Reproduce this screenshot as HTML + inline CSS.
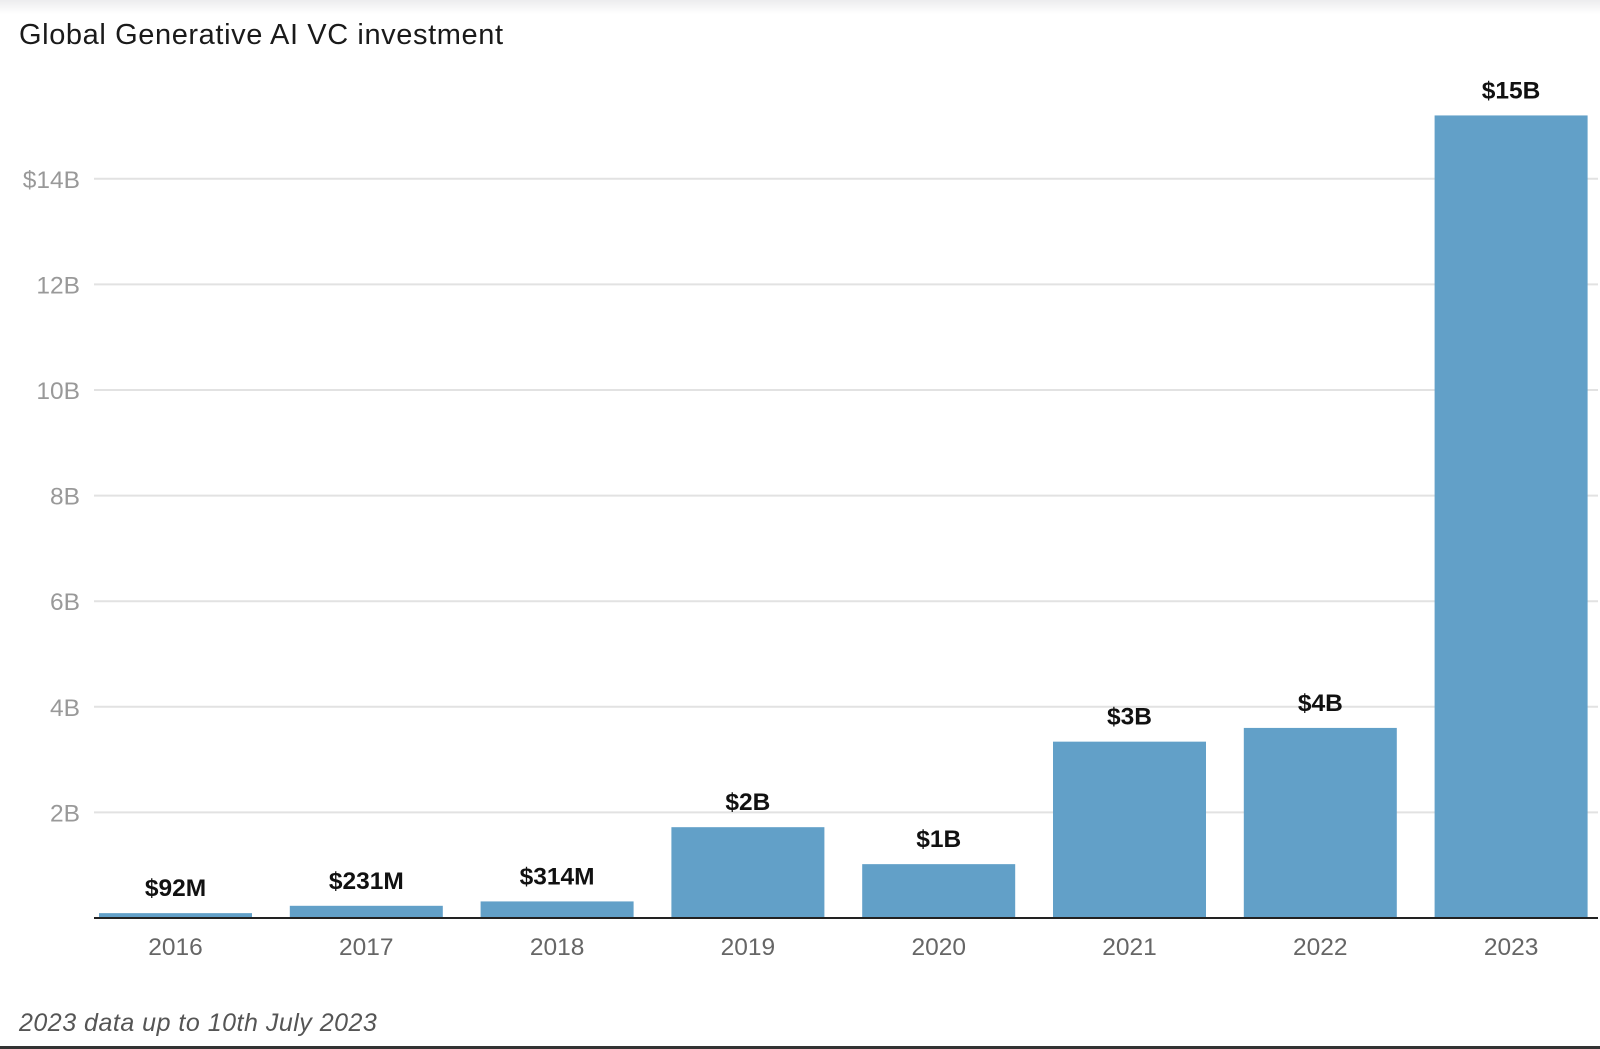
<!DOCTYPE html>
<html><head><meta charset="utf-8"><style>
body{margin:0;background:#fff;width:1600px;height:1049px;overflow:hidden;font-family:"Liberation Sans",sans-serif;}
#topbar{position:absolute;left:0;top:0;width:1600px;height:14px;background:linear-gradient(#ececee,#fff);}
#botline{position:absolute;left:0;top:1046px;width:1600px;height:3px;background:#333;}
</style></head><body>
<div id="topbar"></div>
<svg id="chart" width="1600" height="1049" style="position:absolute;left:0;top:0">
<text x="19" y="44" font-size="29" letter-spacing="0.6" fill="#1a1a1a">Global Generative AI VC investment</text>
<text x="19" y="1031" font-size="25" letter-spacing="0.5" font-style="italic" fill="#555">2023 data up to 10th July 2023</text>
<g id="grid"></g><g id="bars"></g>
</svg>
<div id="botline"></div>
<script>
const categories=["2016","2017","2018","2019","2020","2021","2022","2023"];
const values=[0.092,0.231,0.314,1.72,1.02,3.34,3.6,15.2];
const valueLabels=["$92M","$231M","$314M","$2B","$1B","$3B","$4B","$15B"];
const ticks=[2,4,6,8,10,12,14];
const tickLabels=["2B","4B","6B","8B","10B","12B","$14B"];
const NS="http://www.w3.org/2000/svg";
const y0=918,pxPerB=52.8;
const y=v=>y0-v*pxPerB;
const x=i=>99+i*190.8;
const bw=153;
function mk(t,a,p){const e=document.createElementNS(NS,t);for(const k in a)e.setAttribute(k,a[k]);p.appendChild(e);return e;}
const grid=document.getElementById('grid'),bars=document.getElementById('bars');
ticks.forEach((t,i)=>{
  const l=mk('line',{x1:94,x2:1598,y1:y(t),y2:y(t),stroke:'#e2e2e2','stroke-width':2},grid);
  
  
  const tx=mk('text',{x:80,y:y(t)+9,'font-size':24.5,fill:'#999','text-anchor':'end'},grid);
  tx.textContent=tickLabels[i];
  
  
});
categories.forEach((c,i)=>{
  const r=mk('rect',{x:x(i),y:y(values[i]),width:bw,height:values[i]*pxPerB,fill:'#62a0c8'},bars);
  
  
  const vl=mk('text',{x:x(i)+bw/2,y:y(values[i])-17,'font-size':24.5,'font-weight':'bold',fill:'#111','text-anchor':'middle'},bars);
  vl.textContent=valueLabels[i];
  
  
  const xl=mk('text',{x:x(i)+bw/2,y:955,'font-size':24.5,fill:'#666','text-anchor':'middle'},bars);
  xl.textContent=c;
  
  
});
const ax=mk('line',{x1:94,x2:1598,y1:y0,y2:y0,stroke:'#222','stroke-width':2},bars);


</script>
</body></html>
